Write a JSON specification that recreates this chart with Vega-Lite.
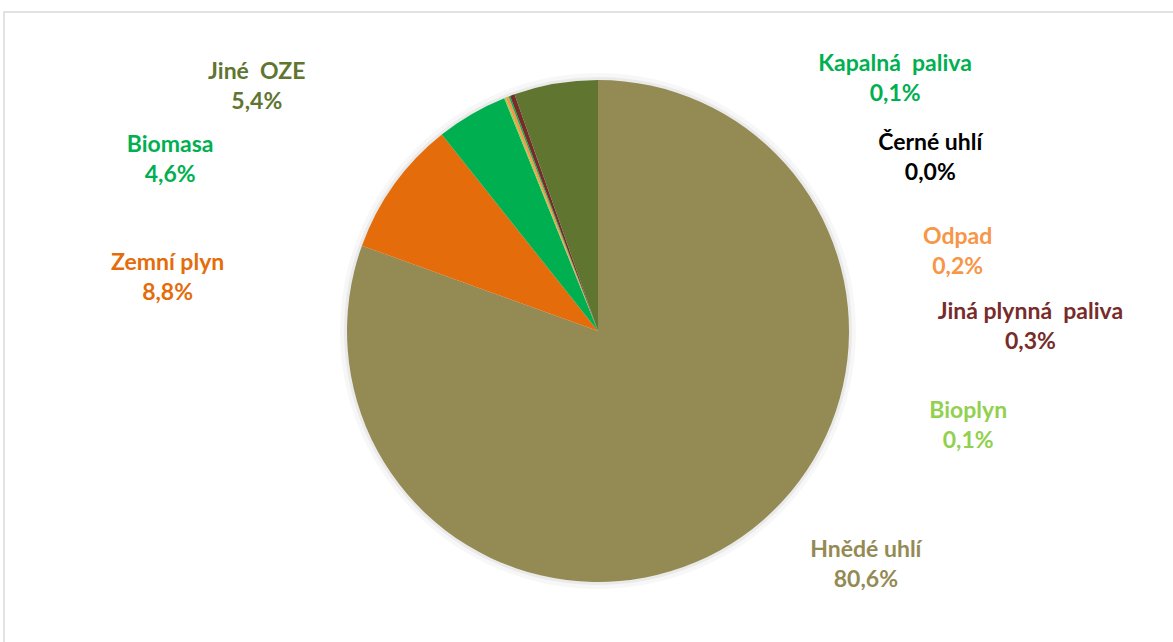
{
  "$schema": "https://vega.github.io/schema/vega-lite/v6.json",
  "autosize": "none",
  "width": 1188,
  "height": 638,
  "padding": {"left": 4, "top": 12, "right": -19, "bottom": -8},
  "background": "#ffffff",
  "config": {
    "text": {"font": "Lato", "fontWeight": "bold", "fontSize": 23, "lineHeight": 30, "lineBreak": "\n", "align": "center", "baseline": "middle"}
  },
  "data": {
    "values": [
      {"category": "Hnědé uhlí", "value": 80.6, "order": 1, "label": "Hnědé uhlí\n80,6%"},
      {"category": "Zemní plyn", "value": 8.8, "order": 2, "label": "Zemní plyn\n8,8%"},
      {"category": "Biomasa", "value": 4.6, "order": 3, "label": "Biomasa\n4,6%"},
      {"category": "Bioplyn", "value": 0.1, "order": 4, "label": "Bioplyn\n0,1%"},
      {"category": "Odpad", "value": 0.2, "order": 5, "label": "Odpad\n0,2%"},
      {"category": "Černé uhlí", "value": 0.0, "order": 6, "label": "Černé uhlí\n0,0%"},
      {"category": "Kapalná paliva", "value": 0.1, "order": 7, "label": "Kapalná\u00a0 paliva\n0,1%"},
      {"category": "Jiná plynná paliva", "value": 0.3, "order": 8, "label": "Jiná plynná\u00a0 paliva\n0,3%"},
      {"category": "Jiné OZE", "value": 5.4, "order": 9, "label": "Jiné\u00a0 OZE\n5,4%"}
    ]
  },
  "encoding": {
    "theta": {"field": "value", "type": "quantitative", "stack": true},
    "order": {"field": "order", "type": "quantitative"},
    "color": {
      "field": "category",
      "type": "nominal",
      "legend": null,
      "scale": {
        "domain": ["Hnědé uhlí", "Zemní plyn", "Biomasa", "Bioplyn", "Odpad", "Černé uhlí", "Kapalná paliva", "Jiná plynná paliva", "Jiné OZE"],
        "range": ["#948A54", "#E46C0A", "#00B050", "#92D050", "#F79646", "#000000", "#00B050", "#772C2A", "#5F7530"]
      }
    }
  },
  "layer": [
    {"data": {"values": [{"frame": "chart area"}]},
     "mark": {"type": "rect", "filled": false, "strokeWidth": 1.5},
     "encoding": {"theta": null, "order": null, "color": {"value": "#D9D9D9"}}},
    {"mark": {"type": "arc", "radius": 258, "opacity": 0.03}, "encoding": {"color": {"value": "#000000"}}},
    {"mark": {"type": "arc", "radius": 254, "opacity": 0.05}, "encoding": {"color": {"value": "#000000"}}},
    {"mark": {"type": "arc", "radius": 251}},
    {"mark": {"type": "text", "radius": 280, "dx": 107, "dy": -10},
     "encoding": {"text": {"condition": {"test": "datum.category === 'Hnědé uhlí'", "field": "label"}, "value": ""}}},
    {"mark": {"type": "text", "radius": 280, "dx": -203, "dy": 95},
     "encoding": {"text": {"condition": {"test": "datum.category === 'Zemní plyn'", "field": "label"}, "value": ""}}},
    {"mark": {"type": "text", "radius": 280, "dx": -287, "dy": 56},
     "encoding": {"text": {"condition": {"test": "datum.category === 'Biomasa'", "field": "label"}, "value": ""}}},
    {"mark": {"type": "text", "radius": 280, "dx": -294, "dy": 17},
     "encoding": {"text": {"condition": {"test": "datum.category === 'Jiné OZE'", "field": "label"}, "value": ""}}},
    {"mark": {"type": "text", "radius": 280, "dx": 474, "dy": 340},
     "encoding": {"text": {"condition": {"test": "datum.category === 'Bioplyn'", "field": "label"}, "value": ""}}},
    {"mark": {"type": "text", "radius": 280, "dx": 461, "dy": 167},
     "encoding": {"text": {"condition": {"test": "datum.category === 'Odpad'", "field": "label"}, "value": ""}}},
    {"mark": {"type": "text", "radius": 280, "dx": 432, "dy": 74},
     "encoding": {"text": {"condition": {"test": "datum.category === 'Černé uhlí'", "field": "label"}, "value": ""}}},
    {"mark": {"type": "text", "radius": 280, "dx": 396, "dy": -5},
     "encoding": {"text": {"condition": {"test": "datum.category === 'Kapalná paliva'", "field": "label"}, "value": ""}}},
    {"mark": {"type": "text", "radius": 280, "dx": 528, "dy": 244},
     "encoding": {"text": {"condition": {"test": "datum.category === 'Jiná plynná paliva'", "field": "label"}, "value": ""}}}
  ]
}
